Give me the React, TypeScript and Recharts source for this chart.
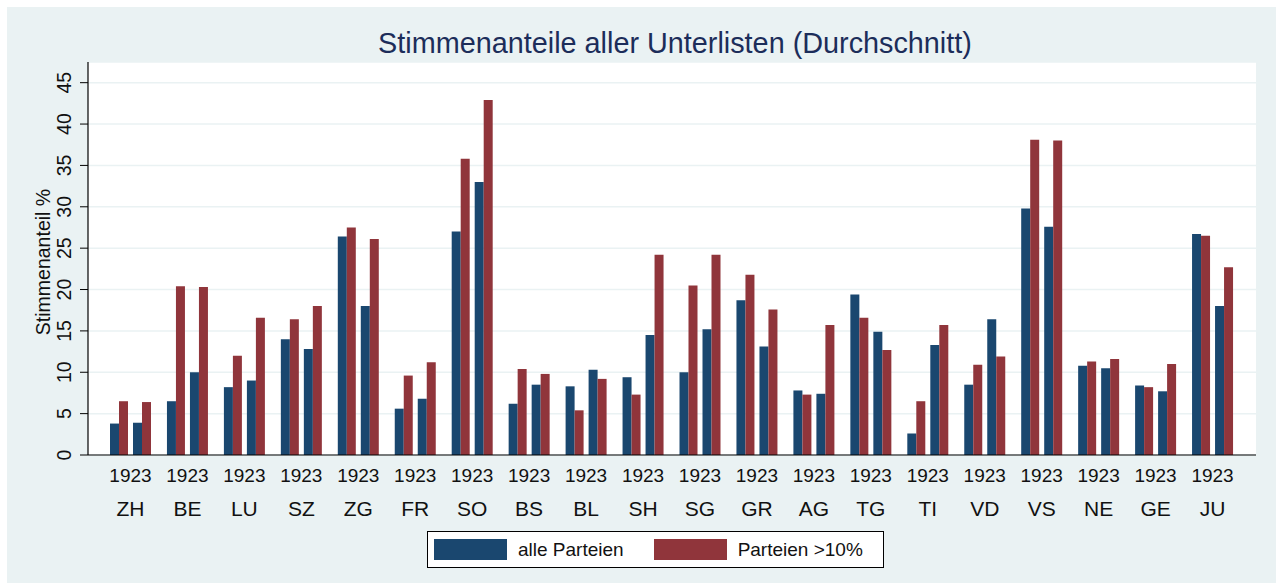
import { Bar, BarChart, CartesianGrid, XAxis, YAxis } from "recharts";

const cantons = ["ZH", "BE", "LU", "SZ", "ZG", "FR", "SO", "BS", "BL", "SH", "SG", "GR", "AG", "TG", "TI", "VD", "VS", "NE", "GE", "JU"];
const years = ["1923", "1923", "1923", "1923", "1923", "1923", "1923", "1923", "1923", "1923", "1923", "1923", "1923", "1923", "1923", "1923", "1923", "1923", "1923", "1923"];

// two sub-groups per canton, each with "alle Parteien" + "Parteien >10%"
const alleA = [3.8, 6.5, 8.2, 14.0, 26.4, 5.6, 27.0, 6.2, 8.3, 9.4, 10.0, 18.7, 7.8, 19.4, 2.6, 8.5, 29.8, 10.8, 8.4, 26.7];
const grossA = [6.5, 20.4, 12.0, 16.4, 27.5, 9.6, 35.8, 10.4, 5.4, 7.3, 20.5, 21.8, 7.3, 16.6, 6.5, 10.9, 38.1, 11.3, 8.2, 26.5];
const alleB = [3.9, 10.0, 9.0, 12.8, 18.0, 6.8, 33.0, 8.5, 10.3, 14.5, 15.2, 13.1, 7.4, 14.9, 13.3, 16.4, 27.6, 10.5, 7.7, 18.0];
const grossB = [6.4, 20.3, 16.6, 18.0, 26.1, 11.2, 42.9, 9.8, 9.2, 24.2, 24.2, 17.6, 15.7, 12.7, 15.7, 11.9, 38.0, 11.6, 11.0, 22.7];

const yTicks = [0, 5, 10, 15, 20, 25, 30, 35, 40, 45];

const BLUE = "#1a476f";
const RED = "#90353b";
const BG = "#eaf2f3";
const FONT = "'Liberation Sans', Arial, sans-serif";

const data = cantons.map((c, i) => ({
  canton: c,
  year: years[i],
  alleA: alleA[i],
  grossA: grossA[i],
  alleB: alleB[i],
  grossB: grossB[i],
}));

function CantonTick({ x, y, payload }: any) {
  return (
    <g>
      <text x={x} y={y + 27} textAnchor="middle" fontSize={19} fill="#111" fontFamily={FONT}>
        {years[payload.index]}
      </text>
      <text x={x} y={y + 61} textAnchor="middle" fontSize={21} fill="#111" fontFamily={FONT}>
        {payload.value}
      </text>
    </g>
  );
}

function ValueTick({ x, y, payload }: any) {
  return (
    <text
      x={x}
      y={y}
      transform={`rotate(-90 ${x} ${y})`}
      textAnchor="middle"
      fontSize={19.5}
      fill="#111"
      fontFamily={FONT}
    >
      {payload.value}
    </text>
  );
}

function LegendBox() {
  const item = (color: string, label: string) => (
    <span style={{ display: "flex", alignItems: "center" }}>
      <span style={{ width: 73, height: 21, background: color, marginRight: 11 }} />
      <span>{label}</span>
    </span>
  );
  return (
    <div
      style={{
        position: "absolute",
        left: 427,
        top: 531,
        width: 449,
        height: 35,
        border: "1px solid #000",
        background: "#fff",
        display: "flex",
        alignItems: "center",
        paddingLeft: 6,
        boxSizing: "content-box",
        gap: 30,
        fontFamily: FONT,
        fontSize: 19,
        color: "#111",
      }}
    >
      {item(BLUE, "alle Parteien")}
      {item(RED, "Parteien >10%")}
    </div>
  );
}

export default function App() {
  return (
    <div style={{ position: "fixed", left: 0, top: 0, width: 1276, height: 583, background: "#fff", overflow: "hidden" }}>
      <div style={{ position: "absolute", left: 7, top: 7, width: 1269, height: 576, background: BG }} />
      <div style={{ position: "absolute", left: 0, top: 0 }}>
        <BarChart
          width={1276}
          height={583}
          data={data}
          margin={{ top: 62, right: 20, bottom: 58, left: 8 }}
          barGap={0}
        >
          <CartesianGrid vertical={false} stroke={BG} strokeWidth={1.5} fill="#fff" fillOpacity={1} />
          <XAxis
            dataKey="canton"
            tick={<CantonTick />}
            tickLine={false}
            tickSize={0}
            tickMargin={0}
            height={70}
            padding={{ left: 14, right: 15 }}
            axisLine={{ stroke: "#000", strokeWidth: 1.2 }}
            interval={0}
          />
          <YAxis
            domain={[0, 47.5]}
            ticks={yTicks}
            width={80}
            tickSize={8}
            tickMargin={9}
            tick={<ValueTick />}
            tickLine={{ stroke: "#000" }}
            axisLine={{ stroke: "#000", strokeWidth: 1.2 }}
            allowDataOverflow
          />
          <Bar dataKey="alleA" fill={BLUE} barSize={9} isAnimationActive={false} />
          <Bar dataKey="grossA" fill={RED} barSize={9} isAnimationActive={false} />
          <Bar dataKey={() => 0} fill="none" barSize={5} isAnimationActive={false} />
          <Bar dataKey="alleB" fill={BLUE} barSize={9} isAnimationActive={false} />
          <Bar dataKey="grossB" fill={RED} barSize={9} isAnimationActive={false} />
          <text x={675} y={52.5} textAnchor="middle" fontSize={28.8} fill="#1c2d5a" fontFamily={FONT}>
            Stimmenanteile aller Unterlisten (Durchschnitt)
          </text>
          <text
            x={49.5}
            y={262}
            transform="rotate(-90 49.5 262)"
            textAnchor="middle"
            fontSize={19.5}
            fill="#111"
            fontFamily={FONT}
          >
            Stimmenanteil %
          </text>
        </BarChart>
      </div>
      <LegendBox />
    </div>
  );
}
